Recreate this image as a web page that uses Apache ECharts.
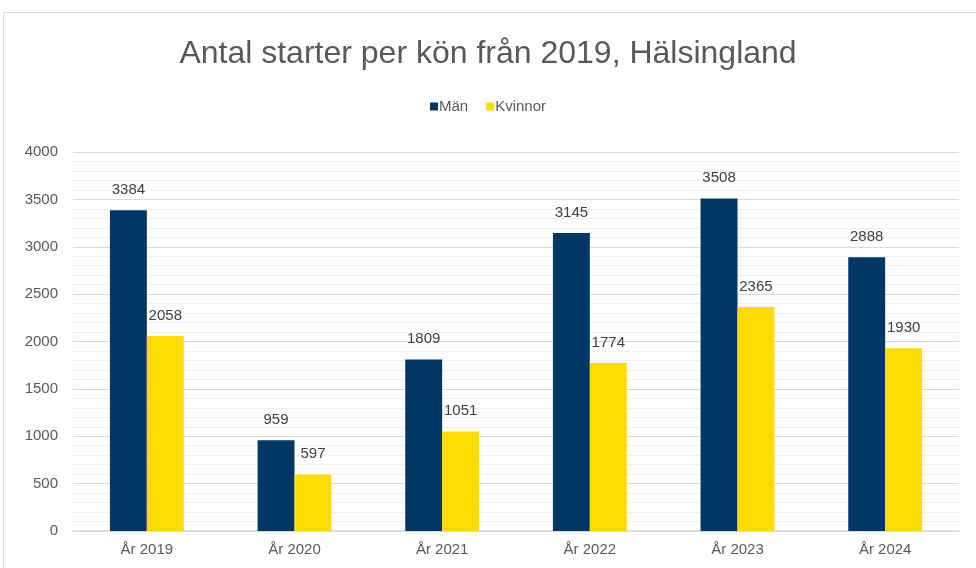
<!DOCTYPE html>
<html>
<head>
<meta charset="utf-8">
<script src="https://cdn.jsdelivr.net/npm/echarts@6/dist/echarts.min.js"></script>
<style>
  html, body { margin: 0; padding: 0; background: #fff; }
  #frame { position: absolute; left: 3px; top: 12px; width: 980px; height: 570px; border: 1px solid #d9d9d9; box-sizing: border-box; }
  #chart { position: absolute; left: 0; top: 0; width: 976px; height: 568px; }
</style>
</head>
<body>
<div id="frame"></div>
<div id="chart"></div>
<script>
const categories = ['År 2019', 'År 2020', 'År 2021', 'År 2022', 'År 2023', 'År 2024']
const man = [3384, 959, 1809, 3145, 3508, 2888]
const kvinnor = [2058, 597, 1051, 1774, 2365, 1930]

const chart = echarts.init(document.getElementById('chart'))

const labelStyle = {
    show: true,
    position: 'top',
    distance: 13,
    color: '#404040',
    fontSize: 15,
    fontFamily: 'Liberation Sans, Arial'
}

chart.setOption({
    animation: false,
    textStyle: { fontFamily: 'Liberation Sans, Arial' },
    title: {
        text: 'Antal starter per kön från 2019, Hälsingland',
        left: 'center',
        top: 33,
        textStyle: { color: '#595959', fontSize: 32, fontWeight: 'normal' }
    },
    legend: {
        top: 94,
        left: 'center',
        itemWidth: 8,
        itemHeight: 8,
        itemGap: 18,
        icon: 'rect',
        textStyle: { color: '#595959', fontSize: 15, padding: [0, 0, 0, -4] },
        data: ['Män', 'Kvinnor']
    },
    grid: { left: 73, right: 17, top: 152, bottom: 37 },
    xAxis: {
        type: 'category',
        data: categories,
        axisLine: { lineStyle: { color: '#d9d9d9', width: 1.5 } },
        axisTick: { show: false },
        axisLabel: { color: '#595959', fontSize: 15, margin: 11 }
    },
    yAxis: {
        type: 'value',
        min: 0,
        max: 4000,
        interval: 500,
        axisLabel: {
            color: '#595959',
            fontSize: 15,
            margin: 15,
            formatter: function(value) {
                return String(value)
            }
        },
        splitLine: { lineStyle: { color: '#d9d9d9', width: 1 } },
        minorTick: { show: false, splitNumber: 5 },
        minorSplitLine: { show: true, lineStyle: { color: '#f0f0f0', width: 1 } }
    },
    series: [
        {
            name: 'Män',
            type: 'bar',
            data: man,
            barGap: '0%',
            barCategoryGap: '50%',
            itemStyle: { color: '#003865' },
            label: labelStyle
        },
        {
            name: 'Kvinnor',
            type: 'bar',
            data: kvinnor,
            itemStyle: { color: '#ffdc00' },
            label: labelStyle
        }
    ]
})
</script>
</body>
</html>
